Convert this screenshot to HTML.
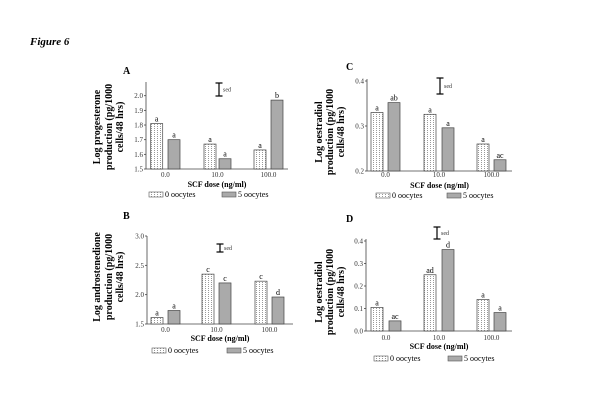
<!DOCTYPE html>
<html><head><meta charset="utf-8"><style>
html,body{margin:0;padding:0;background:#fff;}
svg{display:block;font-family:"Liberation Serif",serif;}
</style></head><body>
<svg id="fig" width="600" height="415" viewBox="0 0 600 415">
<defs>
<pattern id="dots" width="3" height="2" patternUnits="userSpaceOnUse">
<rect width="3" height="2" fill="#fff"/><rect x="1" y="0" width="1" height="1" fill="#999"/>
</pattern>
</defs>
<text x="30" y="45" font-size="11" font-weight="bold" font-style="italic">Figure 6</text>
</svg>
<script>
const categories = ["0.0","10.0","100.0"];
const seriesNames = ["0 oocytes","5 oocytes"];
const aZero = [1.81,1.67,1.63];
const aFive = [1.70,1.57,1.97];
const aLetters0 = ["a","a","a"];
const aLetters5 = ["a","a","b"];
const aTicks = [1.5,1.6,1.7,1.8,1.9,2.0];
const aTickLabels = ["1.5","1.6","1.7","1.8","1.9","2.0"];
const bZero = [1.61,2.35,2.23];
const bFive = [1.73,2.20,1.96];
const bLetters0 = ["a","c","c"];
const bLetters5 = ["a","c","d"];
const bTicks = [1.5,2.0,2.5,3.0];
const bTickLabels = ["1.5","2.0","2.5","3.0"];
const cZero = [0.33,0.326,0.26];
const cFive = [0.352,0.296,0.225];
const cLetters0 = ["a","a","a"];
const cLetters5 = ["ab","a","ac"];
const cTicks = [0.2,0.3,0.4];
const cTickLabels = ["0.2","0.3","0.4"];
const dZero = [0.105,0.25,0.14];
const dFive = [0.045,0.362,0.082];
const dLetters0 = ["a","ad","a"];
const dLetters5 = ["ac","d","a"];
const dTicks = [0.0,0.1,0.2,0.3,0.4];
const dTickLabels = ["0.0","0.1","0.2","0.3","0.4"];

const NS="http://www.w3.org/2000/svg";
const svg=document.getElementById('fig');
function mk(tag,attrs,parent,text){const e=document.createElementNS(NS,tag);for(const k in attrs)e.setAttribute(k,attrs[k]);if(text!==undefined)e.textContent=text;(parent||svg).appendChild(e);return e;}

const layouts=[
 {id:"a",label:"A",zero:aZero,five:aFive,l0:aLetters0,l5:aLetters5,ticks:aTicks,tl:aTickLabels,ymin:1.5,ymax:2.0,y0:169,y1:95.7,ax:146,axEnd:288,axTop:82,
  groups:[150.7,204,254],g2:[168,219,271],lx:123,ly:74,sedX:219,sedY0:83,sedY1:96,tickY:177,titleY:187,legY:197,leg0:149,leg1:222,
  yt:["Log progesterone","production (pg/1000","cells/48 hrs)"],ytx:[100,112,123],yty:127},
 {id:"b",label:"B",zero:bZero,five:bFive,l0:bLetters0,l5:bLetters5,ticks:bTicks,tl:bTickLabels,ymin:1.5,ymax:3.0,y0:324,y1:236,ax:147,axEnd:293,axTop:236,
  groups:[151,202,255],g2:[168,219,272],lx:123,ly:219,sedX:220,sedY0:244,sedY1:252,tickY:332,titleY:341,legY:353,leg0:152,leg1:227,
  yt:["Log androstenedione","production (pg/1000","cells/48 hrs)"],ytx:[100,112,123],yty:277},
 {id:"c",label:"C",zero:cZero,five:cFive,l0:cLetters0,l5:cLetters5,ticks:cTicks,tl:cTickLabels,ymin:0.2,ymax:0.4,y0:171,y1:81,ax:367,axEnd:512,axTop:79,
  groups:[371,424,477],g2:[388,442,494],lx:346,ly:70,sedX:440,sedY0:78,sedY1:94,tickY:177,titleY:188,legY:198,leg0:376,leg1:447,
  yt:["Log oestradiol","production (pg/1000","cells/48 hrs)"],ytx:[322,333,344],yty:132},
 {id:"d",label:"D",zero:dZero,five:dFive,l0:dLetters0,l5:dLetters5,ticks:dTicks,tl:dTickLabels,ymin:0.0,ymax:0.4,y0:331,y1:241,ax:366,axEnd:512,axTop:239,
  groups:[371,424,477],g2:[389,442,494],lx:346,ly:222,sedX:437,sedY0:227,sedY1:239,tickY:340,titleY:349,legY:361,leg0:374,leg1:448,
  yt:["Log oestradiol","production (pg/1000","cells/48 hrs)"],ytx:[322,333,344],yty:292}
];

layouts.forEach(p=>{
  const g=mk('g',{});
  
  
  const y=v=>p.y0-(v-p.ymin)/(p.ymax-p.ymin)*(p.y0-p.y1);
  const pl=mk('text',{x:p.lx,y:p.ly,'font-size':10,'font-weight':'bold'},g,p.label);
  
  
  const ya=mk('line',{x1:p.ax,y1:p.axTop,x2:p.ax,y2:p.y0,stroke:'#444','stroke-width':0.8},g);
  
  
  const xa=mk('line',{x1:p.ax,y1:p.y0,x2:p.axEnd,y2:p.y0,stroke:'#444','stroke-width':0.8},g);
  
  
  p.ticks.forEach((t,i)=>{
    mk('line',{x1:p.ax-2,x2:p.ax,y1:y(t),y2:y(t),stroke:'#444','stroke-width':0.8},g);
    const tt=mk('text',{x:p.ax-3,y:y(t)+2.5,'font-size':7,'text-anchor':'end',fill:'#333'},g,p.tl[i]);
    
    
  });
  categories.forEach((c,i)=>{
    const bw=12;
    const v0=p.zero[i], v5=p.five[i];
    const r0=mk('rect',{x:p.groups[i],y:y(v0),width:bw,height:p.y0-y(v0),fill:'url(#dots)',stroke:'#444','stroke-width':0.7},g);
    
    
    const r5=mk('rect',{x:p.g2[i],y:y(v5),width:bw,height:p.y0-y(v5),fill:'#aaa',stroke:'#444','stroke-width':0.7},g);
    
    
    mk('text',{x:p.groups[i]+bw/2,y:y(v0)-2,'font-size':8,'text-anchor':'middle'},g,p.l0[i]);
    mk('text',{x:p.g2[i]+bw/2,y:y(v5)-2,'font-size':8,'text-anchor':'middle'},g,p.l5[i]);
    const xl=mk('text',{x:(p.groups[i]+p.g2[i]+bw)/2,y:p.tickY,'font-size':7,'text-anchor':'middle',fill:'#333'},g,c);
    
    
  });
  const xt=mk('text',{x:(p.ax+p.axEnd)/2,y:p.titleY,'font-size':8,'font-weight':'bold','text-anchor':'middle'},g,'SCF dose (ng/ml)');
  
  
  p.yt.forEach((s,i)=>{
    const t=mk('text',{x:p.ytx[i],y:p.yty,'font-size':10,'font-weight':'bold','text-anchor':'middle',transform:`rotate(-90 ${p.ytx[i]} ${p.yty})`},g,s);
    
    
  });
  const sed=mk('g',{},g);
  
  
  mk('line',{x1:p.sedX,x2:p.sedX,y1:p.sedY0,y2:p.sedY1,stroke:'#000','stroke-width':1.2},sed);
  mk('line',{x1:p.sedX-3.5,x2:p.sedX+3.5,y1:p.sedY0,y2:p.sedY0,stroke:'#000','stroke-width':1.2},sed);
  mk('line',{x1:p.sedX-3.5,x2:p.sedX+3.5,y1:p.sedY1,y2:p.sedY1,stroke:'#000','stroke-width':1.2},sed);
  mk('text',{x:p.sedX+4,y:(p.sedY0+p.sedY1)/2+2,'font-size':6,fill:'#333'},sed,'sed');
  [p.leg0,p.leg1].forEach((lx,i)=>{
    const le=mk('g',{},g);
    
    
    mk('rect',{x:lx,y:p.legY-5,width:14,height:5,fill:i?'#aaa':'url(#dots)',stroke:'#555','stroke-width':0.6},le);
    mk('text',{x:lx+16,y:p.legY,'font-size':8},le,seriesNames[i]);
  });
});
</script>
</body></html>
